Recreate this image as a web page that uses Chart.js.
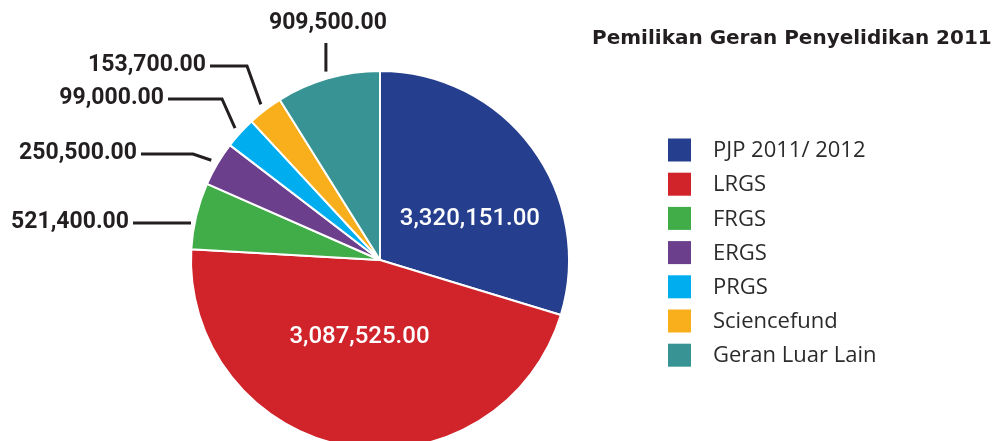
<!DOCTYPE html>
<html>
<head>
<meta charset="utf-8">
<script src="https://cdn.jsdelivr.net/npm/chart.js@4.4.1/dist/chart.umd.min.js"></script>
<style>
  html, body { margin: 0; padding: 0; background: #fff; overflow: hidden; }
  #wrap { width: 1000px; height: 470px; }
</style>
</head>
<body>
<div id="wrap"><canvas id="pieChart" width="1000" height="470"></canvas></div>
<script>
// categories
const categories = ['PJP 2011/ 2012', 'LRGS', 'FRGS', 'ERGS', 'PRGS', 'Sciencefund', 'Geran Luar Lain'];
// slice sizes as drawn in the picture (percent of the circle)
const sliceShare = [29.7, 46.2, 5.7, 3.8, 2.7, 3.0, 8.9];
// amounts printed on the chart
const amountLabels = ['3,320,151.00', '3,087,525.00', '521,400.00', '250,500.00', '99,000.00', '153,700.00', '909,500.00'];
const sliceColors = ['#253f8e', '#d0232a', '#41ad49', '#6b3f8c', '#00aeef', '#f9ae1b', '#389494'];
const chartTitle = 'Pemilikan Geran Penyelidikan 2011';

// label placement: inside labels (offset from slice centroid) or callouts
const labelPlacement = [
    { inside: true, dx: 14, dy: 15 },
    { inside: true, dx: -4, dy: -16 },
    { textRight: 129, lineY: 223, elbowX: null },
    { textRight: 137, lineY: 154, elbowX: 193 },
    { textRight: 164, lineY: 99, elbowX: 222 },
    { textRight: 206, lineY: 66, elbowX: 247 },
    { top: true, textY: 23, lineTop: 43 }
];

const overlayPlugin = {
    id: 'overlay',
    afterDraw(chart) {
        const ctx = chart.ctx;
        const arcs = chart.getDatasetMeta(0).data;
        ctx.save();

        // title
        ctx.fillStyle = '#231f20';
        ctx.font = 'bold 20px "DejaVu Sans", sans-serif';
        ctx.textAlign = 'left';
        ctx.textBaseline = 'alphabetic';
        ctx.fillText(chartTitle, 592, 44);

        // legend
        ctx.textBaseline = 'middle';
        ctx.font = '22px "Open Sans", sans-serif';
        categories.forEach((name, i) => {
            const y = 150 + i * 34.2;
            ctx.fillStyle = sliceColors[i];
            ctx.fillRect(668, y - 11.5, 23, 23);
            ctx.fillStyle = '#2b2b2b';
            ctx.fillText(name, 713, y + 1);
        });

        // value labels
        arcs.forEach((arc, i) => {
            const p = labelPlacement[i];
            const mid = (arc.startAngle + arc.endAngle) / 2;
            const r = arc.outerRadius + 7;
            const ax = arc.x + Math.cos(mid) * r;
            const ay = arc.y + Math.sin(mid) * r;

            if (p.inside) {
                const pos = arc.tooltipPosition();
                ctx.fillStyle = '#ffffff';
                ctx.font = '500 24px Roboto, sans-serif';
                ctx.textAlign = 'center';
                ctx.fillText(amountLabels[i], pos.x + p.dx, pos.y + p.dy);
                return;
            }

            ctx.strokeStyle = '#231f20';
            ctx.lineWidth = 3;
            ctx.fillStyle = '#231f20';
            ctx.font = 'bold 23px Roboto, sans-serif';

            if (p.top) {
                ctx.beginPath();
                ctx.moveTo(ax, p.lineTop);
                ctx.lineTo(ax, ay);
                ctx.stroke();
                ctx.textAlign = 'center';
                ctx.fillText(amountLabels[i], ax + 2, p.textY);
                return;
            }

            ctx.beginPath();
            ctx.moveTo(p.textRight + 4, p.lineY);
            if (p.elbowX === null) {
                ctx.lineTo(arc.x - arc.outerRadius, p.lineY);
            } else {
                ctx.lineTo(p.elbowX, p.lineY);
                ctx.lineTo(ax, ay);
            }
            ctx.stroke();
            ctx.textAlign = 'right';
            ctx.fillText(amountLabels[i], p.textRight, p.lineY - 1);
        });

        ctx.restore();
    }
};

const canvas = document.getElementById('pieChart');
const ctx = canvas.getContext('2d');

window.pieChart = new Chart(ctx, {
    type: 'pie',
    data: {
        labels: categories,
        datasets: [{
            data: sliceShare,
            backgroundColor: sliceColors,
            borderColor: '#ffffff',
            borderWidth: 2
        }]
    },
    options: {
        responsive: false,
        animation: false,
        layout: {
            padding: { left: 190, right: 430, top: 70, bottom: 20 }
        },
        plugins: {
            legend: { display: false },
            tooltip: { enabled: false },
            title: { display: false }
        }
    },
    plugins: [overlayPlugin]
});
</script>
</body>
</html>
